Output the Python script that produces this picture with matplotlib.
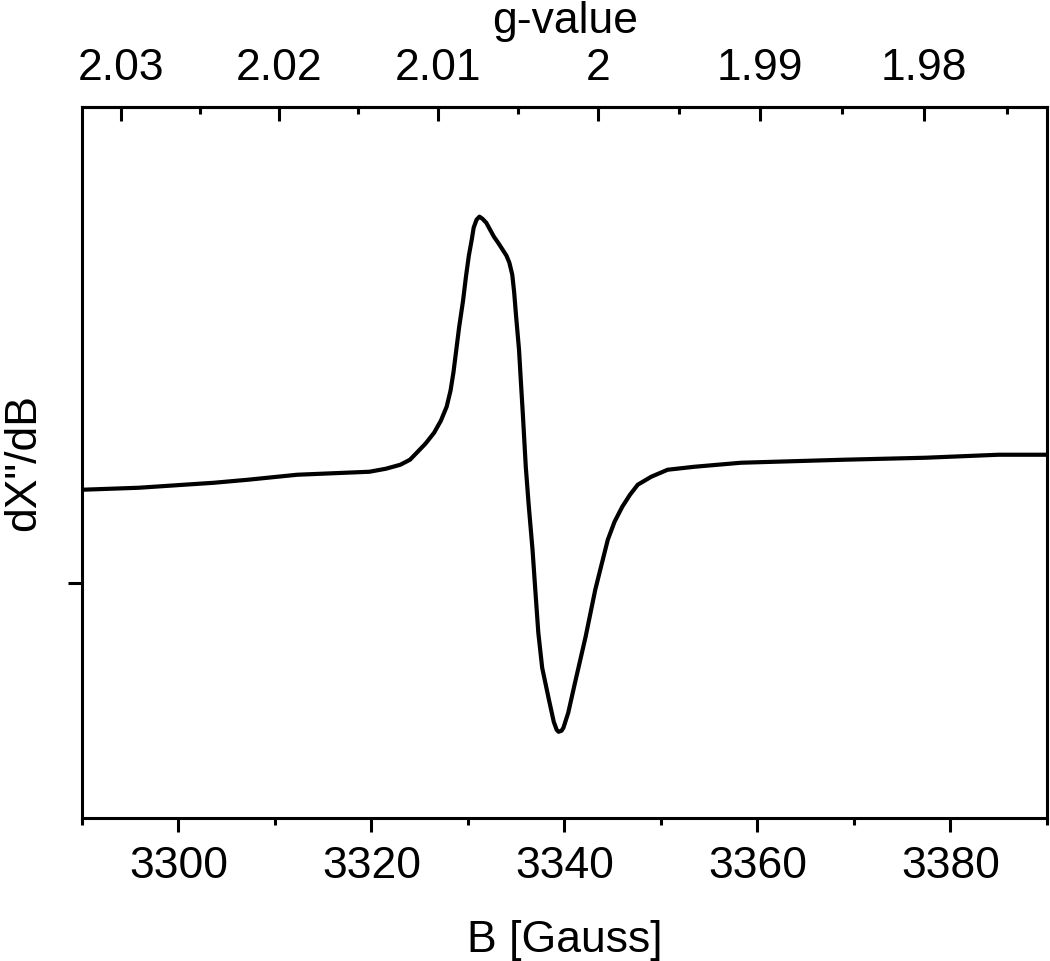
import numpy as np
import matplotlib
matplotlib.use("Agg")
import matplotlib.pyplot as plt
from matplotlib.ticker import FixedLocator

plt.rcParams['font.family'] = ['Liberation Sans', 'DejaVu Sans']

# magnetic field [G] and derivative signal (arb. units)
field = [3290.0, 3295.9, 3303.7, 3307.2, 3312.3, 3319.8, 3321.5, 3323.0, 3324.0,
         3324.7, 3325.6, 3326.5, 3327.2, 3327.8, 3328.2, 3328.5, 3328.8, 3329.1,
         3329.5, 3329.8, 3330.1, 3330.4, 3330.6, 3330.9, 3331.2, 3331.5, 3331.9,
         3332.3, 3332.7, 3333.2, 3333.6, 3334.0, 3334.3, 3334.6, 3334.8, 3335.0,
         3335.3, 3335.5, 3335.7, 3336.0, 3336.3, 3336.7, 3337.0, 3337.3, 3337.7,
         3338.4, 3338.9, 3339.2, 3339.4, 3339.7, 3339.9, 3340.4, 3341.1, 3342.2,
         3343.2, 3343.9, 3344.5, 3345.2, 3346.0, 3346.8, 3347.6, 3349.0, 3350.7,
         3353.5, 3358.3, 3368.9, 3377.4, 3385.0, 3390.0]
signal = [0.93, 0.95, 1.00, 1.03, 1.08, 1.11, 1.14, 1.18, 1.23,
          1.30, 1.39, 1.50, 1.62, 1.76, 1.92, 2.10, 2.33, 2.56,
          2.82, 3.06, 3.27, 3.43, 3.55, 3.63, 3.66, 3.64, 3.60,
          3.53, 3.46, 3.39, 3.33, 3.27, 3.20, 3.08, 2.90, 2.66,
          2.33, 2.00, 1.68, 1.16, 0.78, 0.33, -0.09, -0.50, -0.85,
          -1.17, -1.39, -1.47, -1.49, -1.48, -1.45, -1.30, -1.00, -0.54,
          -0.07, 0.20, 0.43, 0.61, 0.76, 0.88, 0.98, 1.06, 1.13,
          1.16, 1.20, 1.23, 1.25, 1.28, 1.28]

field_ticks = [3300, 3320, 3340, 3360, 3380]
field_minor = [3290, 3310, 3330, 3350, 3370, 3390]
g_ticks = [2.03, 2.02, 2.01, 2.0, 1.99, 1.98]
g_labels = ["2.03", "2.02", "2.01", "2", "1.99", "1.98"]
g_minor = [2.025, 2.015, 2.005, 1.995, 1.985, 1.975]

hnu_over_mub = 6687.0  # B * g


def b_to_g(b):
    b = np.asarray(b, dtype=float)
    with np.errstate(divide='ignore'):
        return hnu_over_mub / b


fig = plt.figure(figsize=(10.5, 9.61), dpi=100)
ax = fig.add_axes([0.078, 0.149, 0.919, 0.740])

ax.plot(field, signal, color='black', lw=3.0, solid_joinstyle='round')

ax.set_xlim(3290, 3390)
ax.set_ylim(-2.35, 4.76)

ax.set_xticks(field_ticks)
ax.xaxis.set_minor_locator(FixedLocator(field_minor))
ax.set_yticks([0])
ax.set_yticklabels([])

for s in ax.spines.values():
    s.set_linewidth(2.2)

ax.tick_params(axis='x', which='major', direction='out', length=10, width=2.2,
               labelsize=32, pad=10)
ax.tick_params(axis='x', which='minor', direction='out', length=5, width=2.2)
ax.tick_params(axis='y', which='major', direction='out', length=10, width=2.2)

ax.set_xlabel("B [Gauss]", fontsize=32, labelpad=24)
ax.set_ylabel('dX"/dB', fontsize=32, labelpad=14)

sec = ax.secondary_xaxis('top', functions=(b_to_g, b_to_g))
sec.set_xticks(g_ticks)
sec.set_xticklabels(g_labels)
sec.xaxis.set_minor_locator(FixedLocator(g_minor))
sec.spines['top'].set_linewidth(2.2)
sec.tick_params(axis='x', which='major', direction='in', length=10, width=2.2,
                labelsize=32, pad=13)
sec.tick_params(axis='x', which='minor', direction='in', length=5, width=2.2)

# top axis title sits just above the g tick labels
fig.text(0.538, 0.966, "g-value", fontsize=32, ha='center', va='baseline')

fig.savefig("out.png", dpi=100)
